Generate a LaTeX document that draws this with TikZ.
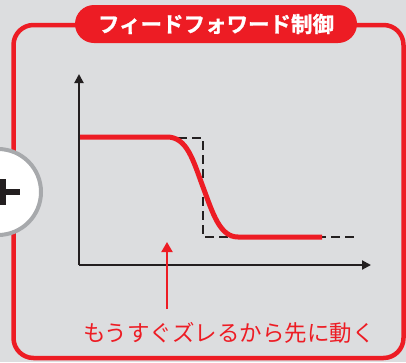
\documentclass[tikz,border=0pt]{standalone}
\usepackage{fontspec}
\newfontfamily\cjk{Noto Sans CJK JP}
\newfontfamily\cjkb[FakeBold=1.2]{Noto Sans CJK JP Bold}
\usetikzlibrary{arrows.meta}
\definecolor{bg}{HTML}{DCDDDF}
\definecolor{ffred}{HTML}{ED1C24}
\definecolor{ink}{HTML}{231F20}
\definecolor{ring}{HTML}{A7A9AC}
\tikzset{
  axis/.style={ink, line width=2pt, -{Triangle[length=9pt,width=9pt]}},
  stepline/.style={ink, line width=2pt, dash pattern=on 9pt off 5pt},
  resp/.style={ffred, line width=5pt},
  pointer/.style={ffred, line width=2pt, -{Triangle[length=10pt,width=11pt]}},
}
\begin{document}
\begin{tikzpicture}[x=1pt,y=-1pt]
\fill[bg] (0,0) rectangle (406,362);
\useasboundingbox (0,0) rectangle (406,362);
% frame
\draw[ffred, line width=4.5pt, rounded corners=20pt] (13.5,25) rectangle (403.5,358);
% title
\node[fill=ffred, rounded corners=19pt, minimum width=282pt, minimum height=38pt, inner sep=0pt,
      text=white, font=\cjkb\fontsize{21.5}{21.5}\selectfont] (title) at (216,24) {フィードフォワード制御};
% plus circle
\node[circle, fill=white, draw=ring, line width=4pt, minimum size=86pt, inner sep=0pt] (plus) at (-2,192) {};
\draw[ink, line width=6pt] (-10,192) -- (20,192);
\draw[ink, line width=6pt] (3,179) -- (3,205);
% axes
\coordinate (o) at (79,265);
\coordinate (ytip) at (79,74);
\coordinate (xtip) at (371,265);
\draw[axis] (o) -- (ytip);
\draw[axis] (o) -- (xtip);
% dashed ideal step
\coordinate (s0) at (80,138);
\coordinate (s1) at (203,138);
\coordinate (s2) at (203,237);
\coordinate (s3) at (354,237);
\draw[stepline] (s0) -- (s1) -- (s2) -- (s3);
% response curve
\coordinate (r0) at (80,137);
\coordinate (r1) at (167,137);
\coordinate (r2) at (238,237);
\coordinate (r3) at (322,237);
\draw[resp] (r0) -- (r1) .. controls (187,137) and (193,160) .. (203,187)
  .. controls (213,214) and (220,237) .. (r2) -- (r3);
% pointer
\coordinate (pb) at (167,309);
\coordinate (pt) at (167,242);
\draw[pointer] (pb) -- (pt);
\node[text=ffred, font=\cjk\fontsize{22.5}{22.5}\selectfont, inner sep=0pt] (note) at (229,333) {もうすぐズレるから先に動く};
\end{tikzpicture}
\end{document}
